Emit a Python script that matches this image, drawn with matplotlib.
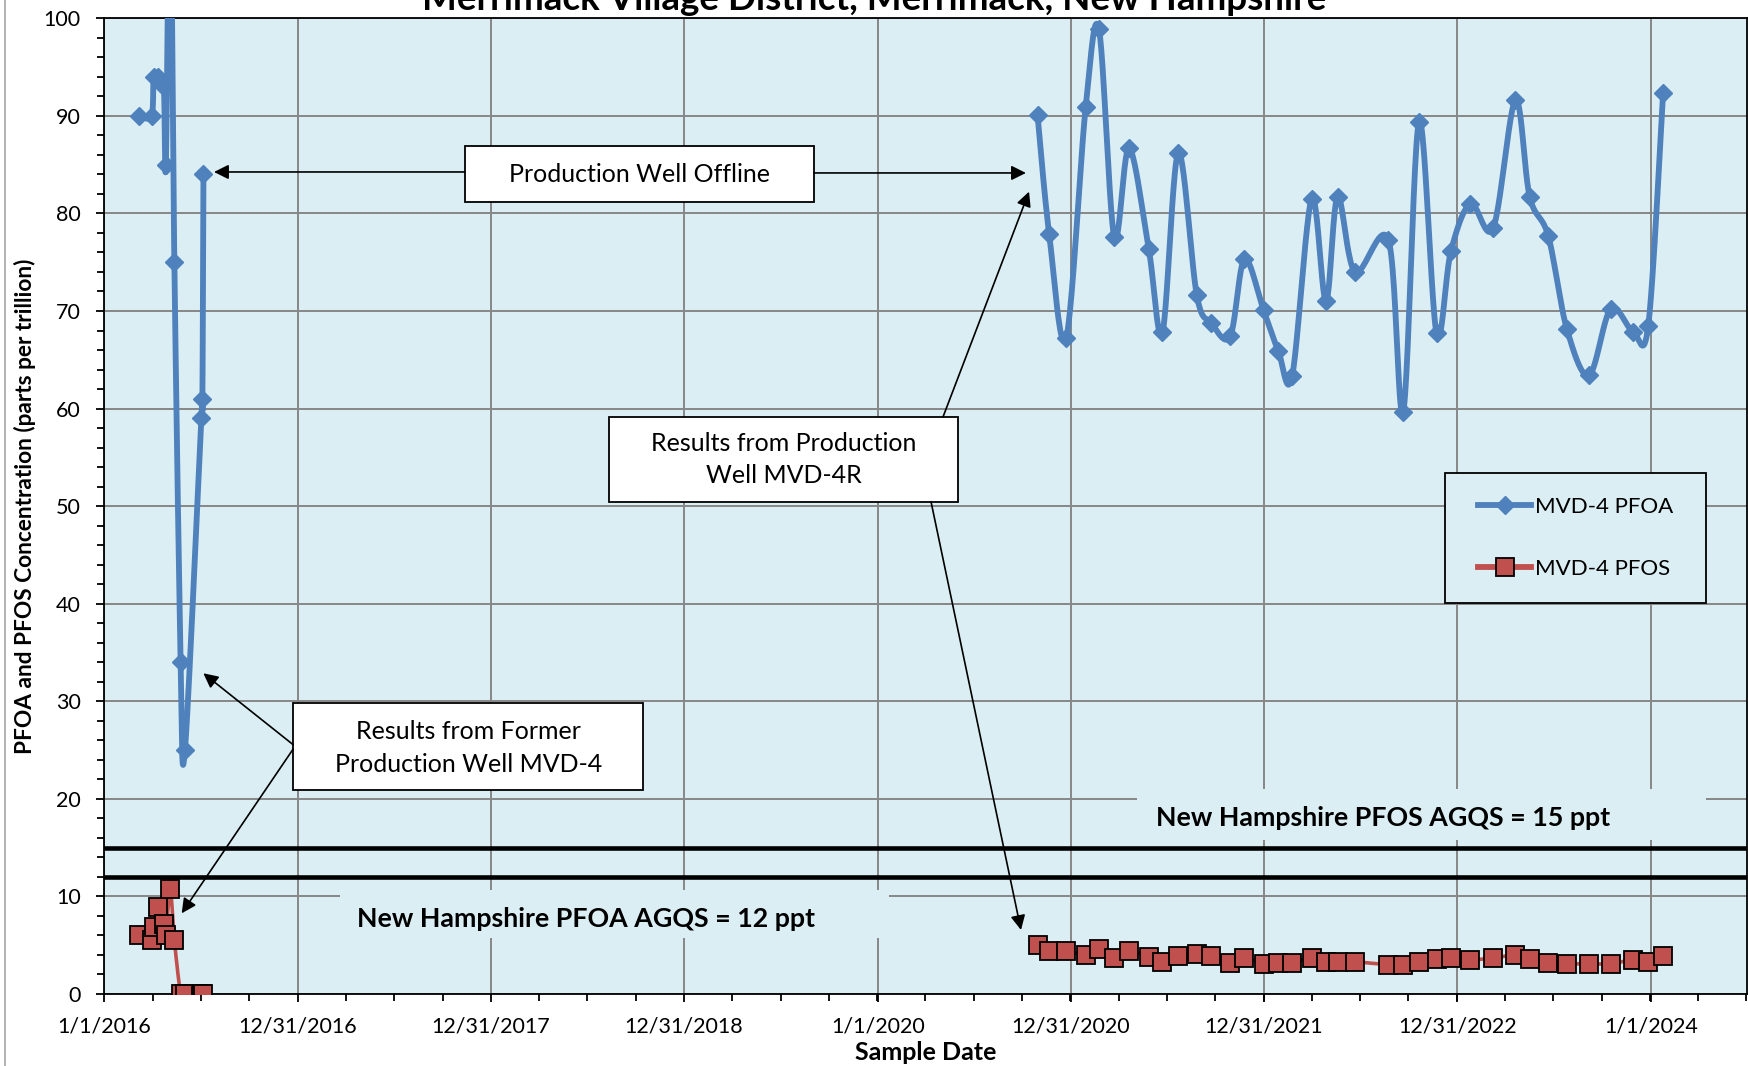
import numpy as np
import pandas as pd
import matplotlib
matplotlib.use('Agg')
import matplotlib.pyplot as plt
import matplotlib.dates as mdates
from matplotlib.patches import Rectangle
from matplotlib.lines import Line2D

plt.rcParams['font.family'] = ['Lato', 'DejaVu Sans']

# ---- data ----
dates_2016 = ['2016-03-07', '2016-03-30', '2016-04-03', '2016-04-12', '2016-04-22', '2016-04-26',
              '2016-05-04', '2016-05-12', '2016-05-24', '2016-06-01', '2016-07-02', '2016-07-04',
              '2016-07-06']
pfoa_2016 = [90, 90, 94, 94, 93, 85, 115, 75, 34, 25, 59, 61, 84]
pfos_2016 = [6.0, 5.5, 6.9, 8.9, 7.2, 6.0, 10.8, 5.5, 0, 0, 0, 0, 0]

dates_4r = ['2020-10-29', '2020-11-20', '2020-12-22', '2021-01-28', '2021-02-22', '2021-03-23',
            '2021-04-20', '2021-05-27', '2021-06-22', '2021-07-22', '2021-08-26', '2021-09-22',
            '2021-10-28', '2021-11-24', '2021-12-30', '2022-01-27', '2022-02-22', '2022-03-31',
            '2022-04-27', '2022-05-19', '2022-06-21', '2022-08-23', '2022-09-20', '2022-10-20',
            '2022-11-22', '2022-12-19', '2023-01-25', '2023-03-09', '2023-04-20', '2023-05-17',
            '2023-06-21', '2023-07-26', '2023-09-06', '2023-10-17', '2023-11-28', '2023-12-27',
            '2024-01-24']
pfoa_4r = [90.1, 77.9, 67.2, 90.9, 98.9, 77.6, 86.7, 76.4, 67.8, 86.2, 71.6, 68.8, 67.4, 75.3,
           70.1, 65.9, 63.3, 81.5, 71.0, 81.7, 74.0, 77.3, 59.7, 89.4, 67.7, 76.1, 81.0, 78.5,
           91.6, 81.7, 77.7, 68.2, 63.4, 70.2, 67.9, 68.5, 92.3]
pfos_4r = [5.0, 4.4, 4.4, 4.0, 4.6, 3.7, 4.4, 3.8, 3.3, 3.9, 4.1, 3.9, 3.2, 3.7, 3.1, 3.2, 3.2,
           3.7, 3.3, 3.3, 3.3, 3.0, 3.0, 3.3, 3.6, 3.7, 3.5, 3.7, 4.0, 3.6, 3.2, 3.1, 3.1, 3.1,
           3.5, 3.3, 3.9]

pfos_agqs = 15
pfoa_agqs = 12

tick_dates = ['2016-01-01', '2016-12-31', '2017-12-31', '2018-12-31', '2020-01-01',
              '2020-12-31', '2021-12-31', '2022-12-31', '2024-01-01']
tick_labels = ['1/1/2016', '12/31/2016', '12/31/2017', '12/31/2018', '1/1/2020',
               '12/31/2020', '12/31/2021', '12/31/2022', '1/1/2024']

bg = '#DBEEF3'
blue = '#4F81BD'
red = '#C0504D'


def smooth(x, y, n=25):
    # Excel style smoothed line (bezier with 1/6 tangents)
    p = np.column_stack([x, y]).astype(float)
    p = np.vstack([p[0], p, p[-1]])
    segs = []
    t = np.linspace(0, 1, n)[:, None]
    for i in range(1, len(p) - 2):
        p0, p1, p2, p3 = p[i - 1], p[i], p[i + 1], p[i + 2]
        c1 = p1 + (p2 - p0) / 6
        c2 = p2 - (p3 - p1) / 6
        segs.append((1 - t)**3 * p1 + 3 * (1 - t)**2 * t * c1 + 3 * (1 - t) * t**2 * c2 + t**3 * p2)
    s = np.vstack(segs)
    return s[:, 0], s[:, 1]


def dnum(lst):
    return mdates.date2num(pd.to_datetime(lst))


fig = plt.figure(figsize=(17.48, 10.66), dpi=100)
ax = fig.add_axes([0.05978, 0.06754, 0.93947, 0.91529])
ax.set_facecolor(bg)

for d, v in [(dates_2016, pfoa_2016), (dates_4r, pfoa_4r)]:
    xs, ys = smooth(dnum(d), v)
    ax.plot(xs, ys, color=blue, lw=4.2, zorder=3, solid_capstyle='round')
    ax.plot(dnum(d), v, ls='none', marker='D', ms=9.5, color=blue, zorder=4)
for d, v in [(dates_2016, pfos_2016), (dates_4r, pfos_4r)]:
    xs, ys = smooth(dnum(d), v)
    ax.plot(xs, ys, color=red, lw=2.6, zorder=3)
    ax.plot(dnum(d), v, ls='none', marker='s', ms=12.5, mfc=red, mec='black', mew=1.3, zorder=4)

ax.axhline(pfos_agqs, color='black', lw=3.3, zorder=3)
ax.axhline(pfoa_agqs, color='black', lw=3.3, zorder=3)

ax.set_ylim(0, 100)
ax.set_xlim(dnum(['2016-01-01'])[0], dnum(['2024-06-30'])[0])
ax.set_yticks(np.arange(0, 101, 10))
ax.set_yticks(np.arange(0, 101, 2), minor=True)
major = dnum(tick_dates)
ax.set_xticks(major)
ax.set_xticklabels(tick_labels)
ax.set_xticks(major[0] + np.arange(0, 35) * 365 / 4, minor=True)
ax.tick_params(axis='both', which='major', direction='out', length=6, width=1.3, labelsize=15.5, color='black')
ax.tick_params(axis='both', which='minor', direction='out', length=5, width=1.3, color='black')
ax.tick_params(axis='x', pad=10)
ax.tick_params(axis='y', pad=11)
ax.grid(True, which='major', color='#878787', lw=1.4)
ax.set_axisbelow(True)
for s in ax.spines.values():
    s.set_color('black')
    s.set_linewidth(1.3)

ax.set_ylabel('PFOA and PFOS Concentration (parts per trillion)', fontsize=16.3, weight='bold')
ax.set_xlabel('Sample Date', fontsize=18, weight='bold')
ax.xaxis.label.set_va('center')
ax.yaxis.label.set_va('center')
ax.xaxis.set_label_coords(0.5, -0.0595)
ax.yaxis.set_label_coords(-0.0487, 0.5)

fig.text(0.5, 1 - 10 / 1066, 'Merrimack Village District, Merrimack, New Hampshire',
         ha='center', va='baseline', fontsize=26.5, weight='bold')

# AGQS labels on background patches
ax.add_patch(Rectangle((0.629, 0.1577), 0.3465, 0.0526, transform=ax.transAxes,
                       facecolor=bg, edgecolor='none', zorder=1.5))
ax.text(0.7785, 0.1806, 'New Hampshire PFOS AGQS = 15 ppt', transform=ax.transAxes,
        ha='center', va='center', fontsize=19.3, weight='bold', zorder=5)
ax.add_patch(Rectangle((0.1433, 0.057), 0.3347, 0.05, transform=ax.transAxes,
                       facecolor=bg, edgecolor='none', zorder=1.5))
ax.text(0.2935, 0.0766, 'New Hampshire PFOA AGQS = 12 ppt', transform=ax.transAxes,
        ha='center', va='center', fontsize=19.3, weight='bold', zorder=5)

# callout boxes
boxes = [((0.2193, 0.8117), 0.2127, 0.0574, (0.3255, 0.8404), 'Production Well Offline'),
         ((0.3070, 0.5046), 0.2125, 0.0868, (0.4136, 0.5480), 'Results from Production\nWell MVD-4R'),
         ((0.1149, 0.2087), 0.2131, 0.0891, (0.2215, 0.2521), 'Results from Former\nProduction Well MVD-4')]
for xy, w, h, c, txt in boxes:
    ax.add_patch(Rectangle(xy, w, h, transform=ax.transAxes, facecolor='white',
                           edgecolor='black', lw=1.3, zorder=6))
    ax.text(c[0], c[1], txt, transform=ax.transAxes, ha='center', va='center',
            fontsize=18, linespacing=1.5, zorder=7)

arrows = [((0.2193, 0.8425), (0.0667, 0.8425)),
          ((0.4320, 0.8415), (0.5611, 0.8415)),
          ((0.5106, 0.5914), (0.5630, 0.8223)),
          ((0.5033, 0.5046), (0.5581, 0.0656)),
          ((0.1149, 0.2555), (0.0602, 0.3287)),
          ((0.1149, 0.2511), (0.0470, 0.0827))]
for start, tip in arrows:
    ax.annotate('', xy=tip, xytext=start, xycoords='axes fraction', textcoords='axes fraction',
                arrowprops=dict(arrowstyle='-|>', color='black', lw=1.2, mutation_scale=22,
                                shrinkA=0, shrinkB=0), zorder=6)

# legend
ax.add_patch(Rectangle((0.8163, 0.4007), 0.1589, 0.1333, transform=ax.transAxes,
                       facecolor=bg, edgecolor='black', lw=1.3, zorder=6))
handles = [Line2D([], [], color=blue, lw=4.2, marker='D', ms=9.5),
           Line2D([], [], color=red, lw=4.2, marker='s', ms=12.5, mfc=red, mec='black', mew=1.3)]
leg = ax.legend(handles, ['MVD-4 PFOA', 'MVD-4 PFOS'], loc='center', bbox_to_anchor=(0.8957, 0.4673),
                frameon=False, fontsize=16, handlelength=2.4, handletextpad=0.15, labelspacing=1.9)
leg.set_zorder(7)

fig.add_artist(Line2D([0.0028, 0.0028], [0, 1], transform=fig.transFigure, color='#A6A6A6', lw=1.2))

fig.savefig('out.png', dpi=100)
